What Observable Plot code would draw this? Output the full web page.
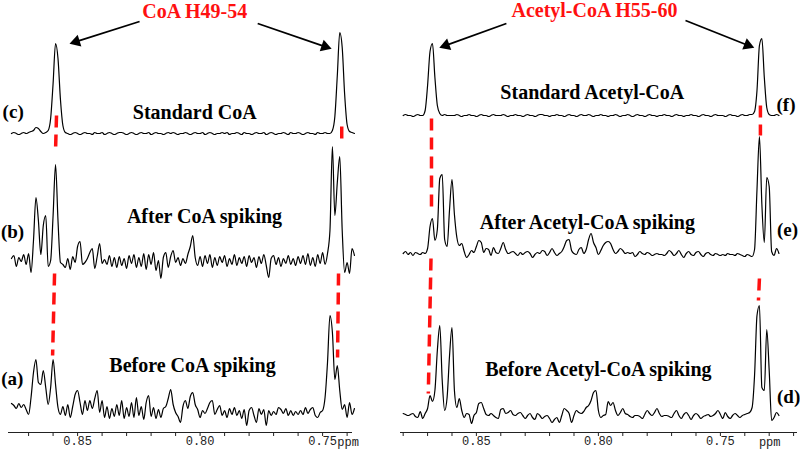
<!DOCTYPE html>
<html><head><meta charset="utf-8">
<script src="https://cdn.jsdelivr.net/npm/d3@7"></script>
<script src="https://cdn.jsdelivr.net/npm/@observablehq/plot@0.6"></script>
<style>
body{margin:0;background:#fff;}
#wrap{display:flex;width:800px;height:457px;overflow:hidden;}
#wrap svg{display:block;flex:none;}
</style></head><body><div id="wrap"></div>
<script>
// ---------- sampling grid (ppm) ----------
const ppmStep = 0.001;
const coaStart = 0.877;     // first sample of the CoA spectra
const acStart = 0.880;      // first sample of the Acetyl-CoA spectra

// ---------- CoA panel spectra (intensity above each baseline) ----------
const traceC = [0,1,0,-1,0,1,0,1,2,3, 6,5,2,0,1,3,15,50,90,75, 34,8,1,0,-1,0,1,0,-1,0,
 1,0,0,-1,1,0,0,1,-1,0, 1,0,-1,0,1,1,0,-1,0,1, 0,-1,0,1,0,0,1,-1,0,1, 0,0,-1,0,1,0,1,0,-1,0,
 0,1,0,-1,0,1,0,0,1,-1, 0,1,0,-1,0,0,1,0,1,-1, 0,0,1,0,-1,1,0,0,-1,0, 1,0,0,1,-1,0,1,0,-1,0,
 0,1,0,-1,1,0,0,1,0,-1, 0,1,0,0,-1,1,0,0,1,0, 0,3,17,58,101,86,39,9,2,1,0];
const traceB = [2,5,-6,3,-1,6,-4,7,-12,20, 63,40,6,35,45,-6,0,45,96,40, -2,-4,-7,2,-9,4,-2,14,19,-4,
 -2,2,8,12,-8,4,17,-3,1,-4, 5,-6,3,-7,4,-5,2,-8,5,-3, 6,-7,3,-6,7,-9,6,-4,8,-10,
 0,-18,3,8,-7,4,10,-2,3,-5, 2,-3,6,14,25,3,-5,4,-6,5, -3,6,-7,3,-5,4,-2,5,-6,2,
 -4,6,-5,3,-3,4,-6,5,-2,3, -7,4,-3,6,-5,-17,2,5,-4,3, -6,2,-3,5,-4,2,-5,4,-3,5,
 -4,7,-5,3,-6,6,-3,8,-4,7, 30,114,45,78,104,30,-12,-2,-13,12,5];
const traceA = [9,7,4,9,5,8,3,-2,15,40, 53,30,28,42,25,8,25,53,28,5, -2,6,-3,8,-5,6,18,22,10,-2,
 12,2,12,4,14,22,0,12,-5,6, -6,4,-4,8,-3,12,-6,5,-4,10, -5,15,-3,6,-7,10,17,-4,5,-6,
 3,-5,4,6,14,23,8,0,-4,-10, 6,12,4,16,20,8,3,-5,2,-1, 4,10,12,-2,3,7,-3,2,-5,4,
 -2,5,-3,2,-6,3,-13,2,5,-3, -10,4,-2,3,-13,2,-3,1,-2,5, 3,-1,4,-3,2,-3,1,-2,2,-2,
 5,-1,3,5,-3,-5,0,2,15,50, 97,80,33,47,22,3,8,-5,10,-2,4];

// ---------- Acetyl-CoA panel spectra ----------
const traceF = [0,1,0,0,-1,0,1,0,0,5, 30,64,72,38,10,2,0,1,0,0,
 0,0,1,0,-1,0,0,1,0,0, -1,0,1,0,0,-1,0,1,0,0, 0,1,0,-1,0,0,1,0,0,-1, 0,1,0,0,-1,0,1,1,0,0,
 -1,0,0,1,0,0,-1,0,1,0, 0,-1,0,1,0,0,1,0,-1,0, 0,1,0,0,-1,0,0,1,0,-1, 0,0,1,0,-1,0,1,0,0,-1,
 0,1,0,0,-1,0,0,1,0,0, -1,0,1,0,0,-1,0,0,1,0, 0,-1,0,1,0,0,-1,0,1,0, 0,0,-1,0,1,0,0,-1,0,1,
 0,0,1,1,4,25,70,77,38,8, 1,0,0,1,0];
const traceE = [1,3,0,2,-1,2,1,0,2,1, 6,28,36,14,25,76,80,15,8,45, 75,40,17,9,11,3,-3,0,4,2,
 8,14,12,2,6,5,-1,7,2,1, 6,12,5,1,2,3,1,-1,2,0, 2,3,1,-3,0,2,1,4,3,-1,
 2,6,2,-1,1,3,8,14,15,4, 1,0,5,7,1,5,15,21,12,7, 0,4,9,12,13,11,5,1,3,6,
 4,1,2,1,2,-2,0,3,1,0, 2,1,-1,0,1,0,0,-1,1,4, 2,-1,1,4,0,-3,1,3,0,-1,
 2,3,0,-2,1,2,0,-1,1,0, -1,0,-1,1,0,0,-1,1,0,-1, -2,0,-1,-2,5,65,118,50,12,77, 68,3,-1,6,1];
const traceD = [2,1,0,1,2,-1,-2,4,-3,2, 7,20,14,25,65,90,35,5,18,60, 88,25,8,17,5,-2,2,1,-8,0,
 3,12,13,7,1,0,2,0,-2,-3, 6,7,2,3,5,1,0,2,3,0, -3,0,2,-2,-4,2,0,-3,-1,0,
 -3,-7,-4,-2,-7,0,7,5,2,-7, 0,5,3,2,4,8,10,15,23,25, 5,-2,0,1,14,10,13,5,0,3,
 7,2,1,-1,-2,0,0,-1,-3,1, 5,2,0,3,7,2,-1,0,0,-1, -2,2,5,0,-3,1,3,0,-4,0,
 2,0,-3,-1,0,1,-1,0,2,5, 1,-3,3,-1,-3,0,2,0,-2,0, 1,2,3,8,40,100,110,28,25,86, 45,-5,-2,3,0];

// ---------- stacking, names, tags ----------
const coaTraces = [traceC, traceB, traceA];
const coaLevels = [299, 172, 20];
const coaTags = ["(c)", "(b)", "(a)"];
const coaNames = ["Standard CoA", "After CoA spiking", "Before CoA spiking"];
const acTraces = [traceF, traceE, traceD];
const acLevels = [317, 178, 17];
const acTags = ["(f)", "(e)", "(d)"];
const acNames = ["Standard Acetyl-CoA", "After Acetyl-CoA spiking", "Before Acetyl-CoA spiking"];

// ---------- axis ticks ----------
const coaDomain = [0.8782, 0.7378];
const acDomain = [0.8811, 0.7184];
const majorTicks = [0.85, 0.80, 0.75];
const coaMinor = [0.87,0.86,0.85,0.84,0.83,0.82,0.81,0.80,0.79,0.78,0.77,0.76,0.75,0.74];
const acMinor = [0.88,0.87,0.86,0.85,0.84,0.83,0.82,0.81,0.80,0.79,0.78,0.77,0.76,0.75,0.74,0.73,0.72];

// ---------- annotations ----------
const coaTitle = [{ppm: 0.8022, y: 415, text: "CoA H49-54"}];
const acTitle = [{ppm: 0.8016, y: 416, text: "Acetyl-CoA H55-60"}];
const coaNamePos = [{ppm: 0.8022, y: 314}, {ppm: 0.7982, y: 210}, {ppm: 0.8031, y: 61}];
const acNamePos = [{ppm: 0.8025, y: 334}, {ppm: 0.8045, y: 204}, {ppm: 0.8000, y: 57}];
const coaTagPos = [{ppm: 0.8806, y: 315}, {ppm: 0.8813, y: 195}, {ppm: 0.8812, y: 48}];
const acTagPos = [{ppm: 0.7270, y: 322}, {ppm: 0.7268, y: 197}, {ppm: 0.7268, y: 30}];
const coaArrows = [{x1: 0.8247, y1: 411, x2: 0.8529, y2: 389}, {x1: 0.7765, y1: 409, x2: 0.7467, y2: 384}];
const acArrows = [{x1: 0.8377, y1: 409, x2: 0.8648, y2: 385}, {x1: 0.7643, y1: 412, x2: 0.7365, y2: 385}];
const coaGuides = [
  {x1: 0.8586, y1: 317, x2: 0.8590, y2: 282}, {x1: 0.8594, y1: 159, x2: 0.8602, y2: 77},
  {x1: 0.7422, y1: 306, x2: 0.7422, y2: 287}, {x1: 0.7435, y1: 159, x2: 0.7439, y2: 75}];
const acGuides = [
  {x1: 0.8684, y1: 314, x2: 0.8684, y2: 224}, {x1: 0.8686, y1: 174, x2: 0.8697, y2: 39},
  {x1: 0.7336, y1: 327, x2: 0.7336, y2: 297}, {x1: 0.7340, y1: 154, x2: 0.7344, y2: 132}];
const ppmLabel = {coa: 0.7396, ac: 0.7298};

const serif = "'Liberation Serif', 'Times New Roman', serif";
const mono = "'Liberation Mono', 'DejaVu Sans Mono', monospace";

function panel(o) {
  const rows = [];
  o.traces.forEach((vals, k) => vals.forEach((v, i) => rows.push({ppm: o.start - i * ppmStep, y: o.levels[k] + v, trace: o.tags[k]})));
  const names = o.namePos.map((p, k) => ({...p, text: o.names[k]}));
  const tags = o.tagPos.map((p, k) => ({...p, text: o.tags[k]}));
  // arrowheads: a filled triangle at each arrow end, oriented along the arrow
  const sx = d3.scaleLinear(o.domain, [o.ml, 400 - o.mr]);
  const sy = d3.scaleLinear([0, 432], [432, 0]);
  const heads = o.arrows.map(a => {
    const dx = sx(a.x2) - sx(a.x1), dy = sy(a.y2) - sy(a.y1);
    const len = Math.hypot(dx, dy), ux = dx / len, uy = dy / len;
    const cx = sx(a.x2) - 6 * ux, cy = sy(a.y2) - 6 * uy;
    return {x: sx.invert(cx), y: sy.invert(cy), x1: a.x1, y1: a.y1, angle: Math.atan2(dx, -dy) * 180 / Math.PI};
  });
  return Plot.plot({
    width: 400, height: 457,
    marginLeft: o.ml, marginRight: o.mr, marginTop: 0, marginBottom: 25,
    style: {background: "white", overflow: "visible"},
    x: {domain: o.domain},
    y: {domain: [0, 432], axis: null},
    marks: [
      Plot.link(o.guides, {x1: "x1", y1: "y1", x2: "x2", y2: "y2", stroke: "#ff1010", strokeWidth: 3.5, strokeDasharray: "12,7"}),
      Plot.line(rows, {x: "ppm", y: "y", z: "trace", stroke: "black", strokeWidth: 1.2, curve: "monotone-x"}),
      Plot.ruleY([0], {stroke: "#222", strokeWidth: 1.2}),
      Plot.axisX({ticks: o.minor, tickSize: 4, tickFormat: () => "", stroke: "#222"}),
      Plot.axisX({ticks: majorTicks, tickSize: 0, tickPadding: 4, tickFormat: d => d.toFixed(2), fontFamily: mono, fontSize: 12, fill: "#222"}),
      Plot.text([{ppm: o.ppmLabel, y: -13}], {x: "ppm", y: "y", text: () => "ppm", lineAnchor: "bottom", fontFamily: mono, fontSize: 12, fill: "#222"}),
      Plot.link(heads, {x1: "x1", y1: "y1", x2: "x", y2: "y", stroke: "black", strokeWidth: 1.8}),
      Plot.dot(heads, {x: "x", y: "y", symbol: "triangle", r: 4.5, fill: "black", stroke: "none", rotate: "angle"}),
      Plot.text(o.title, {x: "ppm", y: "y", text: "text", lineAnchor: "bottom", fontFamily: serif, fontWeight: "bold", fontSize: 20, fill: "#ff1010"}),
      Plot.text(names, {x: "ppm", y: "y", text: "text", lineAnchor: "bottom", fontFamily: serif, fontWeight: "bold", fontSize: 20, fill: "black"}),
      Plot.text(tags, {x: "ppm", y: "y", text: "text", lineAnchor: "bottom", textAnchor: "start", fontFamily: serif, fontWeight: "bold", fontSize: 19, fill: "black"})
    ]
  });
}

const wrap = document.getElementById("wrap");
wrap.append(panel({traces: coaTraces, levels: coaLevels, tags: coaTags, names: coaNames, start: coaStart,
  domain: coaDomain, minor: coaMinor, ml: 8, mr: 48, title: coaTitle, namePos: coaNamePos, tagPos: coaTagPos,
  arrows: coaArrows, guides: coaGuides, ppmLabel: ppmLabel.coa}));
wrap.append(panel({traces: acTraces, levels: acLevels, tags: acTags, names: acNames, start: acStart,
  domain: acDomain, minor: acMinor, ml: 0, mr: 3, title: acTitle, namePos: acNamePos, tagPos: acTagPos,
  arrows: acArrows, guides: acGuides, ppmLabel: ppmLabel.ac}));
</script></body></html>
